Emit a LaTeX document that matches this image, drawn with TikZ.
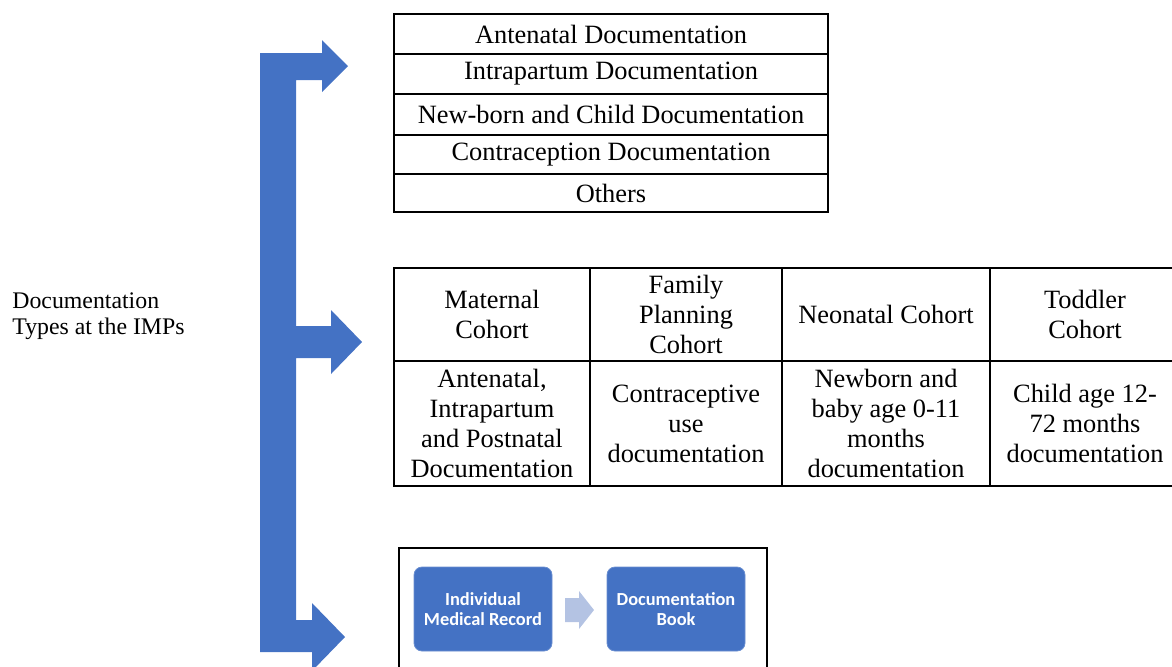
\documentclass[tikz,border=0pt]{standalone}
\usepackage{fontspec}
\setmainfont{Liberation Serif}
\newfontfamily\calib{Carlito}
\definecolor{wblue}{HTML}{4472C4}
\definecolor{lblue}{HTML}{B4C3E3}
\begin{document}
\begin{tikzpicture}[x=0.5pt,y=-0.5pt,
  cell/.style={draw=black,line width=0.75pt,inner sep=0pt,align=center,
    font=\fontsize{13.2}{15}\selectfont},
  bluebox/.style={fill=wblue,draw=wblue!80!white,rounded corners=4pt,inner sep=0pt,
    align=center,text=white,font=\calib\bfseries\fontsize{9.2}{10.3}\selectfont,
    minimum width=69pt,minimum height=42pt},
  lbl/.style={align=left,inner sep=0pt,font=\fontsize{11.9}{13}\selectfont}]
\useasboundingbox (0,0) rectangle (1172,666);
\clip (0,0) rectangle (1172,666);
% big blue bracket arrow
\fill[wblue] (260,53) -- (322,53) -- (322,40) -- (348,66) -- (322,92) -- (322,80)
  -- (296,80) -- (296,326) -- (331,326) -- (331,310) -- (362,342) -- (331,374)
  -- (331,358) -- (296,358) -- (296,620) -- (312,620) -- (312,603) -- (345,637)
  -- (312,671) -- (312,652) -- (260,652) -- cycle;
% left label
\node[lbl,anchor=west] (lab) at (12,316) {Documentation\\Types at the IMPs};
% top table
\node[cell,minimum width=217pt,minimum height=20pt] (t1) at (611,34) {Antenatal Documentation};
\node[cell,minimum width=217pt,minimum height=20pt] (t2) at (611,74) {Intrapartum Documentation};
\node[cell,minimum width=217pt,minimum height=20.5pt] (t3) at (611,114.5) {New-born and Child Documentation};
\node[cell,minimum width=217pt,minimum height=19.5pt] (t4) at (611,154.5) {Contraception Documentation};
\node[cell,minimum width=217pt,minimum height=19pt] (t5) at (611,193) {Others};
% bottom table header
\node[cell,minimum width=98pt,minimum height=46.5pt] (h1) at (492,314.5) {Maternal\\Cohort};
\node[cell,minimum width=96pt,minimum height=46.5pt] (h2) at (686,314.5) {Family\\Planning\\Cohort};
\node[cell,minimum width=104pt,minimum height=46.5pt] (h3) at (886,314.5) {Neonatal Cohort};
\node[cell,minimum width=95pt,minimum height=46.5pt] (h4) at (1085,314.5) {Toddler\\Cohort};
% bottom table body
\node[cell,minimum width=98pt,minimum height=62.5pt] (b1) at (492,423.5) {Antenatal,\\Intrapartum\\and Postnatal\\Documentation};
\node[cell,minimum width=96pt,minimum height=62.5pt] (b2) at (686,423.5) {Contraceptive\\use\\documentation};
\node[cell,minimum width=104pt,minimum height=62.5pt] (b3) at (886,423.5) {Newborn and\\baby age 0-11\\months\\documentation};
\node[cell,minimum width=95pt,minimum height=62.5pt] (b4) at (1085,423.5) {Child age 12-\\72 months\\documentation};
% bottom picture box
\draw[line width=1.4pt] (399,548) rectangle (767,700);
\node[bluebox] (imr) at (483,609) {Individual\\Medical Record};
\node[bluebox] (book) at (676,609) {Documentation\\Book};
\fill[lblue] (565,598) -- (579,598) -- (579,591) -- (594,610) -- (579,629) -- (579,622) -- (565,622) -- cycle;
\end{tikzpicture}
\end{document}
